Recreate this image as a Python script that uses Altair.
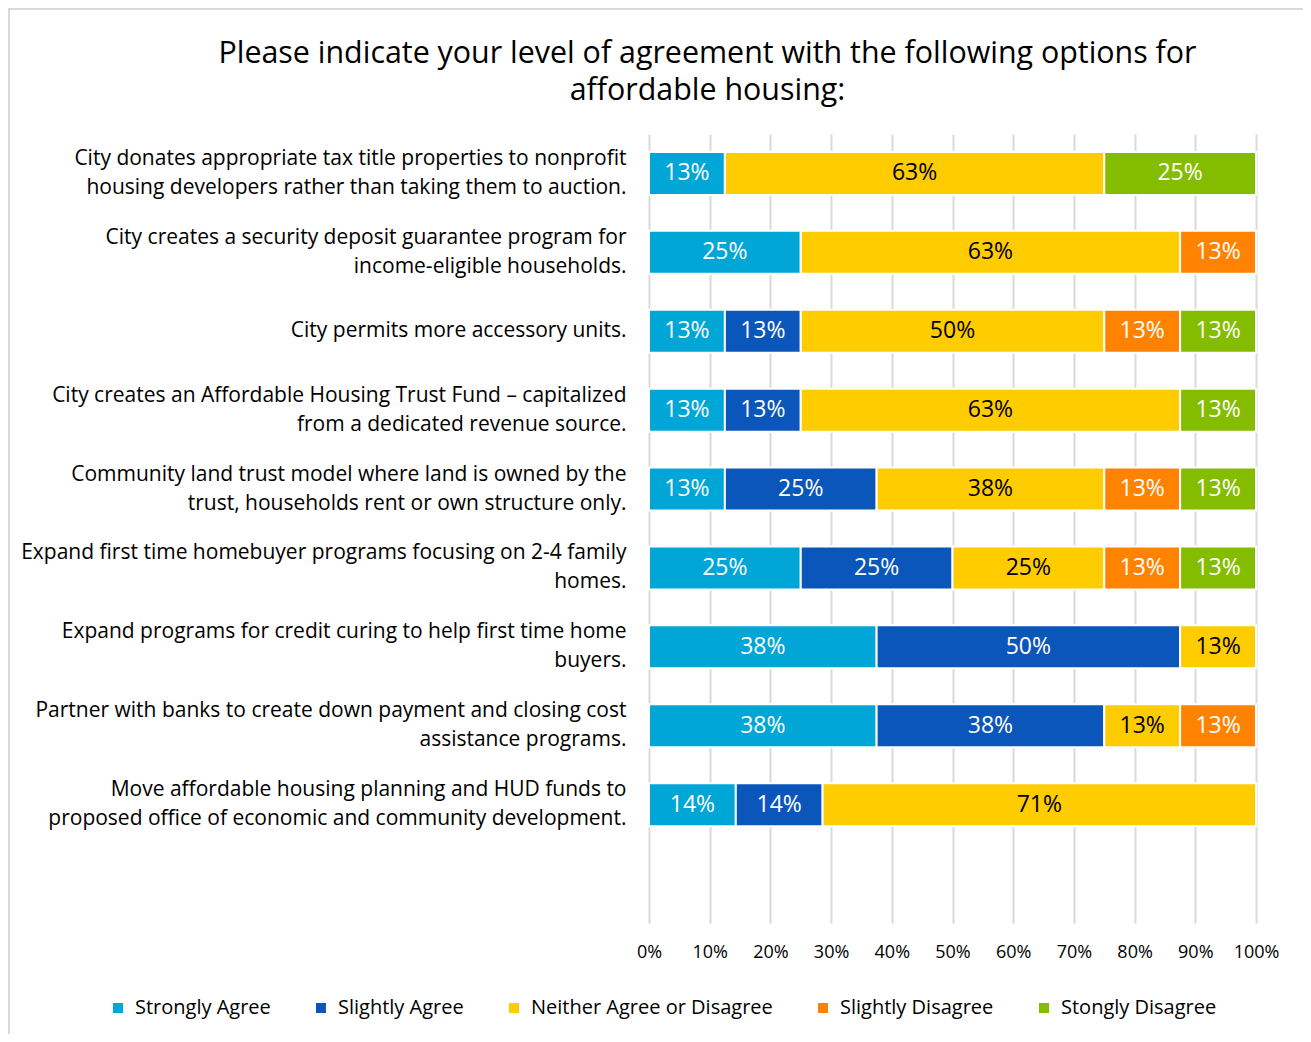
import altair as alt
import pandas as pd

items = [
    "City donates appropriate tax title properties to nonprofit|housing developers rather than taking them to auction.",
    "City creates a security deposit guarantee program for|income-eligible households.",
    "City permits more accessory units.",
    "City creates an Affordable Housing Trust Fund \u2013 capitalized|from a dedicated revenue source.",
    "Community land trust model where land is owned by the|trust, households rent or own structure only.",
    "Expand first time homebuyer programs focusing on 2-4 family|homes.",
    "Expand programs for credit curing to help first time home|buyers.",
    "Partner with banks to create down payment and closing cost|assistance programs.",
    "Move affordable housing planning and HUD funds to|proposed office of economic and community development.",
]
series = ["Strongly Agree", "Slightly Agree", "Neither Agree or Disagree",
          "Slightly Disagree", "Stongly Disagree"]
colors = ["#00A6D6", "#0B56BB", "#FFCC00", "#FF8200", "#84BD00"]

strongly_agree = [12.5, 25, 12.5, 12.5, 12.5, 25, 37.5, 37.5, 14.3]
slightly_agree = [0, 0, 12.5, 12.5, 25, 25, 50, 37.5, 14.3]
neither = [62.5, 62.5, 50, 62.5, 37.5, 25, 12.5, 12.5, 71.4]
slightly_disagree = [0, 12.5, 12.5, 0, 12.5, 12.5, 0, 12.5, 0]
strongly_disagree = [25, 0, 12.5, 12.5, 12.5, 12.5, 0, 0, 0]

cols = [strongly_agree, slightly_agree, neither, slightly_disagree, strongly_disagree]
rows = []
for i, it in enumerate(items):
    cum = 0.0
    for j, s in enumerate(series):
        v = cols[j][i]
        if v > 0:
            rows.append({"item": it, "series": s, "order": j, "value": v,
                         "start": cum, "end": cum + v, "mid": cum + v / 2,
                         "label": f"{int(v + 0.5)}%"})
            cum += v
df = pd.DataFrame(rows)

FONT = "Open Sans"
ydomain = items + [" "]

yscale = alt.Scale(domain=ydomain, paddingInner=0.455, paddingOuter=0.2275)
xscale = alt.Scale(domain=[0, 100], nice=False)

base = alt.Chart(df)

bars = base.mark_bar(stroke="white", strokeWidth=2).encode(
    y=alt.Y("item:N", scale=yscale, title=None,
            axis=alt.Axis(labelExpr="split(datum.label, '|')", labelFont=FONT,
                          labelFontSize=21, labelColor="black", labelLineHeight=29,
                          labelOffset=alt.condition("indexof(datum.label, '|') >= 0",
                                                    alt.value(-14.5), alt.value(0)),
                          labelPadding=23, ticks=False, domain=False, labelLimit=700,
                          labelAlign="right")),
    x=alt.X("start:Q", scale=xscale, title=None,
            axis=alt.Axis(values=list(range(0, 101, 10)), labelExpr="datum.value + '%'",
                          labelFont=FONT, labelFontSize=18, labelColor="black",
                          labelPadding=20, ticks=False, domain=False,
                          labelOverlap=False, labelFlush=False,
                          grid=True, gridColor="#D9D9D9", gridWidth=2)),
    x2="end:Q",
    color=alt.Color("series:N", scale=alt.Scale(domain=series, range=colors),
                    legend=alt.Legend(title=None, orient="none", direction="horizontal",
                                      legendX=-541, legendY=864, symbolType="square",
                                      symbolSize=100, symbolStrokeWidth=0,
                                      labelFont=FONT, labelFontSize=20, labelColor="black",
                                      columnPadding=40, labelOffset=7, labelLimit=400)),
    order=alt.Order("order:Q"),
)

text = base.mark_text(font=FONT, fontSize=23).encode(
    y=alt.Y("item:N", scale=yscale),
    x=alt.X("mid:Q", scale=xscale),
    text="label:N",
    color=alt.condition(alt.datum.series == "Neither Agree or Disagree",
                        alt.value("black"), alt.value("white")),
)

frame = alt.Chart(pd.DataFrame({"a": [0]})).mark_rect(
    fill=None, stroke="#D9D9D9", strokeWidth=2).encode(
    x=alt.value(-640), x2=alt.value(700), y=alt.value(-125), y2=alt.value(1000))

chart = alt.layer(frame, bars, text).properties(
    width=607, height=789,
    title=alt.TitleParams(
        text=["Please indicate your level of agreement with the following options for",
              "affordable housing:"],
        font=FONT, fontSize=30.4, fontWeight="normal", color="black",
        anchor="middle", dx=-245, offset=-98, lineHeight=37),
    autosize=alt.AutoSizeParams(type="none"),
    padding={"left": 641, "top": 126, "right": 47, "bottom": 111},
).configure_view(stroke=None)

chart.save("out.html", embed_options={"renderer": "svg", "actions": False})
